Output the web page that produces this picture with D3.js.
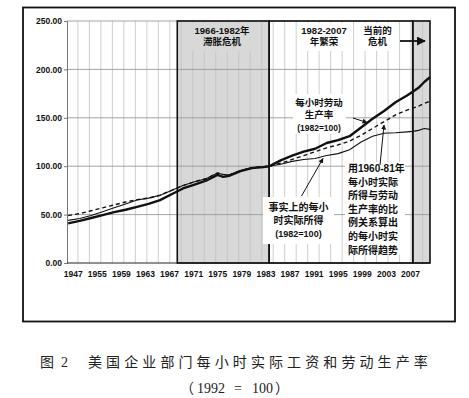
<!DOCTYPE html>
<html>
<head>
<meta charset="utf-8">
<script src="https://d3js.org/d3.v7.min.js"></script>
<style>
body { margin: 0; background: #fff; }
</style>
</head>
<body>
<div id="chart"></div>
<script>
// years shared by all three series
const years = [1947, 1949, 1951, 1953, 1955, 1957, 1959, 1961, 1963, 1965, 1967, 1969, 1971, 1973, 1974, 1975, 1977, 1979, 1981, 1982,
	1984, 1986, 1988, 1990, 1992, 1994, 1996, 1998, 2000, 2002, 2004, 2006, 2007, 2008, 2009, 2010];
// 每小时劳动生产率 (thick line)
const productivity = [41, 43.5, 46.5, 49.5, 52.5, 55, 58, 61, 65, 71, 77, 81, 85, 91, 89, 90, 95, 98, 99, 100,
	106, 111, 115, 118, 124, 127, 131, 140, 149, 157, 166, 173, 177, 181, 187, 192];
// 事实上的每小时实际所得 (thin line)
const earnings = [44, 46, 49, 53, 57, 61, 65, 67, 70, 75, 80, 84, 87, 93, 91.5, 91, 95.5, 98.5, 99.5, 100,
	102, 105, 107, 108, 111, 113, 117, 125, 131, 134, 134.5, 135.5, 136, 137, 139, 138];
// 1960-81 比例算出的趋势 (dashed)
const earningsTrend = [49, 51, 54, 57, 60, 63, 65.5, 67, 70, 75, 80, 84, 87, 93, 91.5, 91, 95.5, 98.5, 99.5, 100,
	103, 107, 111, 115, 119, 122, 126, 132, 139, 146, 153, 158, 160, 162, 165, 167];

const yTicks = [0, 50, 100, 150, 200, 250];
const xTickLabels = ["1947", "1955", "1959", "1963", "1967", "1971", "1975", "1979", "1983",
	"1987", "1991", "1995", "1999", "2003", "2007"];
const shadedPeriods = [[1966, 1982], [2007, 2010]];
const framedPeriods = [[1966, 1982], [1982, 2007], [2007, 2010]];
const gridYears = d3.range(1948.7, 2010, 2);

const W = 469, H = 398;
const svg = d3.select("#chart").append("svg")
	.attr("width", W)
	.attr("height", H)
	.style("background", "#fff");

const x = d3.scaleLinear().domain([1946.8, 2010]).range([67, 430]);
const y = d3.scaleLinear().domain([0, 250]).range([263, 21]);

const latin = "'Liberation Sans', 'Noto Sans CJK SC', sans-serif";

// outer frame
svg.append("rect")
	.attr("x", 23).attr("y", 7.5)
	.attr("width", 432).attr("height", 314)
	.attr("fill", "none")
	.attr("stroke", "#111")
	.attr("stroke-width", 1.8);

// shaded periods
svg.append("g").selectAll("rect")
	.data(shadedPeriods)
	.join("rect")
	.attr("x", d => x(d[0]))
	.attr("y", y(250))
	.attr("width", d => x(d[1]) - x(d[0]))
	.attr("height", y(0) - y(250))
	.attr("fill", "#d8d8d8");

// vertical grid
svg.append("g").selectAll("line")
	.data(gridYears)
	.join("line")
	.attr("x1", d => x(d)).attr("x2", d => x(d))
	.attr("y1", y(250)).attr("y2", y(0))
	.attr("stroke", "#c2c2c2")
	.attr("stroke-width", 0.8);

// horizontal grid
svg.append("g").selectAll("line")
	.data(yTicks.slice(1))
	.join("line")
	.attr("x1", x.range()[0]).attr("x2", x.range()[1])
	.attr("y1", d => y(d)).attr("y2", d => y(d))
	.attr("stroke", "#9a9a9a")
	.attr("stroke-width", 0.9);

// y axis
const yAxis = svg.append("g")
	.attr("transform", `translate(${x.range()[0]},0)`)
	.call(d3.axisLeft(y).tickValues(yTicks).tickFormat(d3.format(".2f")).tickSize(3).tickPadding(2));
yAxis.select(".domain").attr("stroke", "#777");
yAxis.selectAll(".tick line").attr("stroke", "#777");
yAxis.selectAll("text")
	.attr("font-family", latin)
	.attr("font-weight", "bold")
	.attr("font-size", 8.5)
	.attr("fill", "#111");

// x axis labels (evenly spread category labels)
const xLab = d3.scalePoint().domain(xTickLabels).range([72.7, 410]);
const xAxis = svg.append("g")
	.attr("transform", `translate(0,${y(0)})`)
	.call(d3.axisBottom(xLab).tickSize(0).tickPadding(8));
xAxis.select(".domain").remove();
xAxis.selectAll("text")
	.attr("font-family", latin)
	.attr("font-weight", "bold")
	.attr("font-size", 8.5)
	.attr("fill", "#111");

svg.append("line")
	.attr("x1", x.range()[0]).attr("x2", x.range()[1])
	.attr("y1", y(0)).attr("y2", y(0))
	.attr("stroke", "#222")
	.attr("stroke-width", 1);

// series
const line = d3.line()
	.x((d, i) => x(years[i]))
	.y(d => y(d));

svg.append("path")
	.attr("d", line(earnings))
	.attr("fill", "none")
	.attr("stroke", "#111")
	.attr("stroke-width", 1.1);

svg.append("path")
	.attr("d", line(earningsTrend))
	.attr("fill", "none")
	.attr("stroke", "#111")
	.attr("stroke-width", 1.4)
	.attr("stroke-dasharray", "4,3");

svg.append("path")
	.attr("d", line(productivity))
	.attr("fill", "none")
	.attr("stroke", "#111")
	.attr("stroke-width", 2.4)
	.attr("stroke-linejoin", "round");

// period frames
svg.append("g").selectAll("rect")
	.data(framedPeriods)
	.join("rect")
	.attr("x", d => x(d[0]))
	.attr("y", y(250))
	.attr("width", d => x(d[1]) - x(d[0]))
	.attr("height", y(0) - y(250))
	.attr("fill", "none")
	.attr("stroke", "#111")
	.attr("stroke-width", 1.6);

// arrow head
svg.append("defs").append("marker")
	.attr("id", "head")
	.attr("viewBox", "0 0 10 10")
	.attr("refX", 9).attr("refY", 5)
	.attr("markerWidth", 5).attr("markerHeight", 5)
	.attr("orient", "auto")
	.append("path")
	.attr("d", "M0,0 L10,5 L0,10 z")
	.attr("fill", "#111");

// text boxes behind annotations
const boxes = [
	[190, 23, 66, 28, "#d8d8d8"],
	[298, 23, 53, 28, "#fff"],
	[364, 23, 29, 28, "#fff"],
	[293, 94, 53, 40, "#fff"],
	[263, 197, 71, 47, "#fff"],
	[345, 162, 60, 93, "#fff"]
];
svg.append("g").selectAll("rect")
	.data(boxes)
	.join("rect")
	.attr("x", d => d[0]).attr("y", d => d[1])
	.attr("width", d => d[2]).attr("height", d => d[3])
	.attr("fill", d => d[4]);

function note(lines, x0, y0, lh, anchor, size) {
	const t = svg.append("text")
		.attr("font-family", latin)
		.attr("font-weight", "bold")
		.attr("font-size", size)
		.attr("fill", "#111")
		.attr("text-anchor", anchor);
	lines.forEach((s, i) => {
		t.append("tspan")
			.attr("x", x0)
			.attr("y", y0 + i * lh)
			.attr("font-size", /^\(/.test(s) ? size - 1 : size)
			.text(s);
	});
}

note(["1966-1982年", "滞胀危机"], 222, 33.5, 11.5, "middle", 9.5);
note(["1982-2007", "年繁荣"], 324, 33.5, 11.5, "middle", 9.5);
note(["当前的", "危机"], 377.5, 33.5, 11.5, "middle", 9.5);
note(["每小时劳动", "生产率", "(1982=100)"], 319, 105.5, 12.5, "middle", 9.5);
note(["事实上的每小", "时实际所得", "(1982=100)"], 298.5, 210.5, 13.3, "middle", 10);
note(["用1960-81年", "每小时实际", "所得与劳动", "生产率的比", "例关系算出", "的每小时实", "际所得趋势"], 348, 172, 13.6, "start", 10);

// arrows
const arrows = [
	[400, 41, 425, 41, 1.8],
	[353, 118, 367, 122.5, 1],
	[301.5, 196, 323, 158.5, 1],
	[380, 165, 384, 125, 1]
];
svg.append("g").selectAll("line")
	.data(arrows)
	.join("line")
	.attr("x1", d => d[0]).attr("y1", d => d[1])
	.attr("x2", d => d[2]).attr("y2", d => d[3])
	.attr("stroke", "#111")
	.attr("stroke-width", d => d[4])
	.attr("marker-end", "url(#head)");

// caption
const serif = "'Liberation Serif', 'Noto Sans CJK SC', serif";
const cjk = "'Noto Sans CJK SC', sans-serif";
svg.append("text")
	.attr("x", 40).attr("y", 367)
	.attr("font-family", cjk)
	.attr("font-size", 14)
	.attr("fill", "#222")
	.text("图");
svg.append("text")
	.attr("x", 61).attr("y", 367)
	.attr("font-family", serif)
	.attr("font-size", 14)
	.attr("fill", "#222")
	.text("2");
svg.append("text")
	.attr("x", 88).attr("y", 367)
	.attr("font-family", cjk)
	.attr("font-size", 14)
	.attr("letter-spacing", 4.1)
	.attr("fill", "#222")
	.text("美国企业部门每小时实际工资和劳动生产率");

const cap2 = svg.append("text")
	.attr("y", 393)
	.attr("font-family", serif)
	.attr("font-size", 14)
	.attr("fill", "#222");
cap2.append("tspan").attr("x", 180).attr("font-family", cjk).text("（");
cap2.append("tspan").attr("x", 197).text("1992");
cap2.append("tspan").attr("x", 234).text("=");
cap2.append("tspan").attr("x", 252).text("100");
cap2.append("tspan").attr("x", 275).attr("font-family", cjk).text("）");
</script>
</body>
</html>
